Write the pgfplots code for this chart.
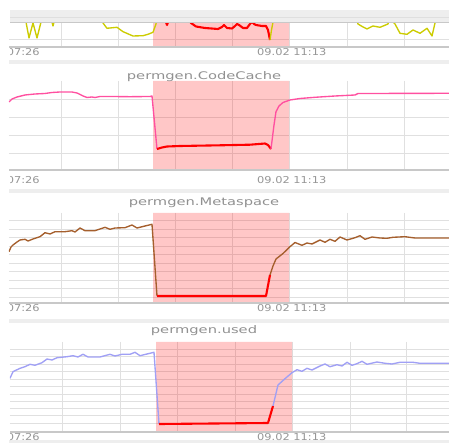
\documentclass[border=0pt]{standalone}
\usepackage{pgfplots}
\pgfplotsset{compat=1.18}
\usepackage{fontspec}
\setmainfont{DejaVu Sans}
\definecolor{ycol}{RGB}{204,204,0}
\definecolor{pcol}{RGB}{255,80,160}
\definecolor{bcol}{RGB}{165,95,45}
\definecolor{lcol}{RGB}{160,160,245}
\definecolor{gridc}{RGB}{224,224,224}
\definecolor{bandc}{RGB}{238,238,238}
\definecolor{axc}{RGB}{200,200,200}
\definecolor{labc}{RGB}{150,150,150}
\definecolor{titc}{RGB}{145,145,145}
\pgfplotsset{panel/.style={scale only axis, y dir=reverse, xmin=9, xmax=449,
  axis line style={draw=none}, tick style={draw=none}, major tick length=0pt,
  xticklabels={}, yticklabels={}, grid=major, major grid style={gridc, line width=0.8pt}},
  shade/.style={draw=none, fill=red, fill opacity=0.22},
  dline/.style={line width=1.35pt, line join=round},
  rline/.style={red, line width=2.1pt, line join=round}}
\begin{document}
\begin{tikzpicture}
\useasboundingbox (0,0) rectangle (449pt,443pt);
\fill[white] (0,0) rectangle (449pt,443pt);
% ---------- panel 1 ----------
\begin{axis}[panel, at={(9pt,420pt)}, anchor=north west, width=440pt, height=24pt,
  ymin=23, ymax=47, xtick={61,118,175,232,289,347,404}, ytick={39}]
\addplot[shade] coordinates {(153,23) (289,23) (289,47) (153,47) (153,23)};
\addplot[dline, ycol] coordinates {(22,15) (26,22) (29,38) (33,23) (37,38) (41,22) (44,15) (50,15) (52,22) (53,26) (54,22) (56,15) (100,15) (103,23) (107,28.3) (117,27.3) (123,31.7) (133,36) (143,35.7) (148,34.3) (153,32.3) (156,24) (157,15)};
\addplot[rline] coordinates {(160,15) (166,22) (167,25) (168,22) (170,15) (188,15) (191,23) (196,26.5) (205,28) (218,29) (222,27) (224,25) (227,28) (232,28.5) (235,26) (237,24) (239,25) (243,28) (247,28) (250,24) (252,22) (254,24) (256,25) (262,26) (266,26) (268,30) (270,40)};
\addplot[dline, ycol] coordinates {(270,40) (271.5,30) (273,22) (275,15) (355,15) (358,24) (363,27) (367,29) (373,26) (380,27.3) (388,24) (390,15) (393,22) (395,24) (400,33.3) (407,34.3) (413,30) (420,33.3) (427,28.3) (432,36) (435,23) (437,15) (449,15)};
\end{axis}
% ---------- panel 2 ----------
\begin{axis}[panel, at={(9pt,362pt)}, anchor=north west, width=440pt, height=89pt,
  ymin=81, ymax=170, xtick={61,118,175,232,289,347,404}, ytick={99,117,135,153}]
\addplot[shade] coordinates {(153,81) (289,81) (289,170) (153,170) (153,81)};
\addplot[dline, pcol] coordinates {(9,102) (12,99) (17,97) (25,95) (35,94) (45,93.5) (52,92.5) (60,92) (72,92) (77,93) (83,96) (87,97.5) (92,97) (95,97.5) (100,96.5) (110,96.5) (130,96.7) (150,96.5) (152,96) (157,149)};
\addplot[rline] coordinates {(157,149) (162,147.5) (167,146.5) (180,146) (220,145.3) (250,144.7) (265,143.5) (268,145) (271,149)};
\addplot[dline, pcol] coordinates {(271,149) (274,125) (276,111.7) (279,106) (283,102.5) (290,100) (300,98.5) (315,97.3) (335,96) (355,95) (358,93.5) (449,93.3)};
\end{axis}
% ---------- panel 3 ----------
\begin{axis}[panel, at={(9pt,230pt)}, anchor=north west, width=440pt, height=90pt,
  ymin=213, ymax=303, xtick={61,118,175,232,289,347,404},
  ytick={220,229,237.5,246,254.5,263,271.5,280,288.5,297}]
\addplot[shade] coordinates {(153,213) (289,213) (289,303) (153,303) (153,213)};
\addplot[dline, bcol] coordinates {(9,251.7) (11,247) (13,245) (17,242) (20,240) (25,239.3) (28,241) (33,239) (40,236.7) (45,232.7) (50,234) (55,231.7) (65,231.7) (72,230.7) (75,232) (80,228) (85,230.7) (95,230.7) (105,227.3) (110,229.3) (115,228) (125,227.7) (132,225) (137,228) (145,226) (152,224.3) (157,296)};
\addplot[rline] coordinates {(157,296) (266,296) (270,275)};
\addplot[dline, bcol] coordinates {(270,275) (273,266) (276,259) (283,253.5) (290,246.7) (295,242.5) (302,245.3) (307,243) (312,244) (320,240) (325,242.3) (330,239.3) (335,241.3) (340,237) (347,240) (355,237.7) (360,235.7) (365,239.3) (372,237) (380,238) (387,238.3) (393,237.3) (405,236.7) (415,238) (449,238)};
\end{axis}
% ---------- panel 4 ----------
\begin{axis}[panel, at={(10pt,101pt)}, anchor=north west, width=439pt, height=90pt,
  xmin=10, ymin=342, ymax=432, xtick={62.7,120,177.7,235,292,350,406.7},
  ytick={349.3,356.7,364,371.7,379.3,386.7,394,401,408.3,415.7,423.3}]
\addplot[shade] coordinates {(156,342) (292,342) (292,432) (156,432) (156,342)};
\addplot[dline, lcol] coordinates {(10,378.3) (13,371.7) (20,368.3) (25,366.7) (30,364.3) (35,365.3) (42,362.7) (47,359) (52,360) (57,357.7) (67,356.7) (73,355.7) (78,357) (83,354.3) (88,357) (100,357) (110,354.3) (115,356) (122,354.3) (130,354.3) (135,352.3) (140,355.7) (147,354) (154,352.3) (159,424)};
\addplot[rline] coordinates {(159,424) (268,423) (273,406)};
\addplot[dline, lcol] coordinates {(273,406) (278,385) (285,378.7) (292,372.7) (297,369.7) (302,371.3) (307,368.3) (312,370) (320,366) (325,364) (330,366.7) (337,364.7) (342,366) (347,362.3) (352,365.3) (357,363.7) (362,361.3) (367,364.3) (377,362) (385,363.3) (392,364) (400,362.3) (413,362.3) (420,363.3) (449,363.3)};
\end{axis}
% ---------- frame, bands and text (pixel coordinates, y downward) ----------
\begin{scope}[x=1pt, y=-1pt, shift={(0,443pt)}]
  \fill[bandc] (10,10) rectangle (449,23);
  \draw[gray!25, line width=0.8pt] (10,17) -- (449,17);
  \draw[axc, line width=1pt] (10,23) -- (449,23);
  \fill[bandc] (9,60) rectangle (449,64.5);
  \fill[bandc] (9,189.5) rectangle (449,193.5);
  \fill[bandc] (9,319.5) rectangle (449,323);
  \fill[bandc] (9,440.5) rectangle (449,443);
  \draw[axc, line width=1.2pt] (9,47) -- (449,47);
  \draw[axc, line width=1.2pt] (9,170) -- (449,170);
  \draw[axc, line width=1.2pt] (9,303) -- (449,303);
  \draw[axc, line width=1.2pt] (10,432) -- (449,432);
  \node[font=\fontsize{10.5}{12}\selectfont, text=titc, xscale=1.4] at (204,76.5) {permgen.CodeCache};
  \node[font=\fontsize{10.5}{12}\selectfont, text=titc, xscale=1.4] at (204,202.7) {permgen.Metaspace};
  \node[font=\fontsize{10.5}{12}\selectfont, text=titc, xscale=1.4] at (204,331) {permgen.used};
  \begin{scope}
    \clip (10,0) rectangle (449,443);
    \foreach \yy in {52.3,180,308.3,436.7} {
      \node[font=\fontsize{9.5}{11}\selectfont, text=labc, xscale=1.2, anchor=east, inner sep=0pt] at (40,\yy) {07:26};
      \node[font=\fontsize{9.5}{11}\selectfont, text=labc, xscale=1.2, anchor=west, inner sep=0pt] at (257,\yy) {09.02 11:13};
    }
  \end{scope}
\end{scope}
\end{tikzpicture}
\end{document}
